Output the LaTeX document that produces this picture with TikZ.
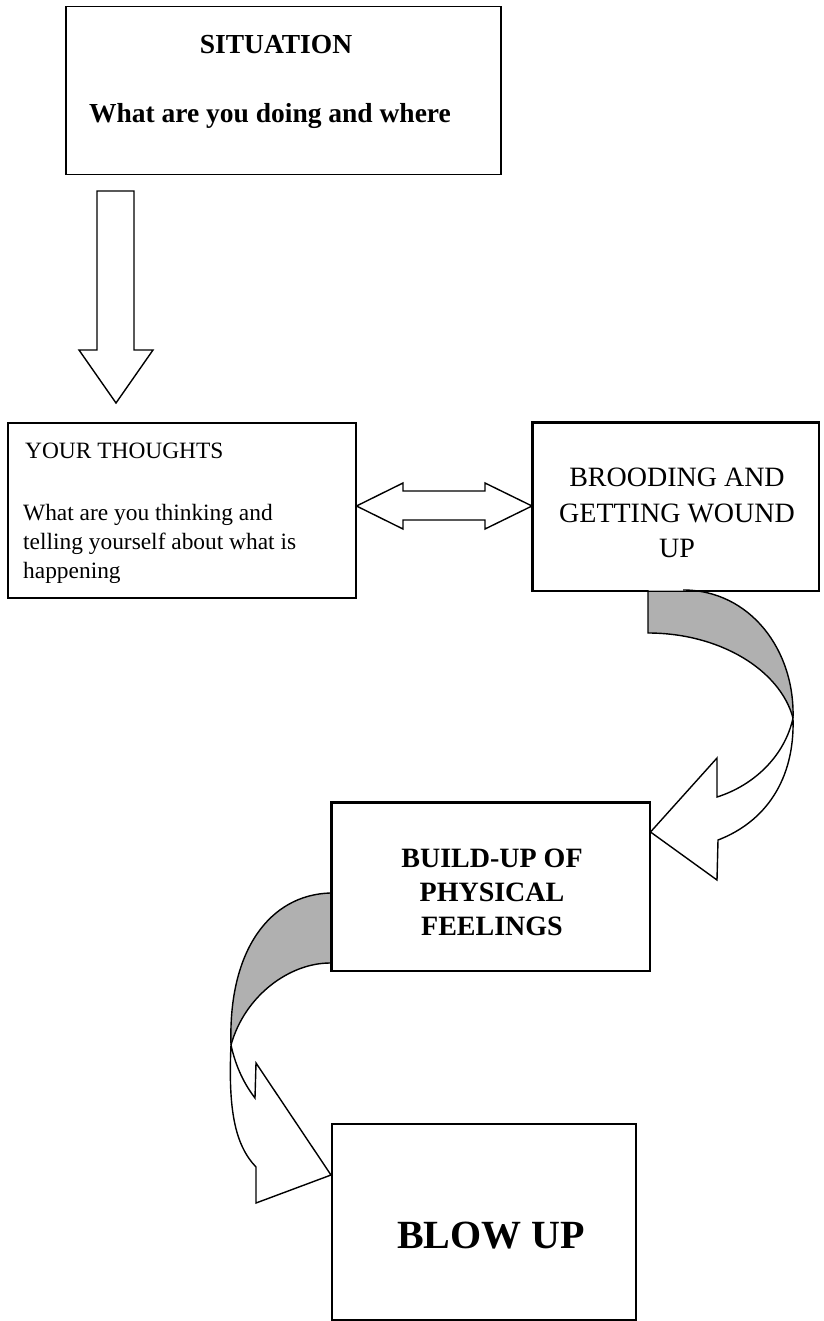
\documentclass[tikz,border=0pt]{standalone}
\usepackage{fontspec}
\setmainfont{Liberation Serif}
\usetikzlibrary{calc}
\definecolor{ribbon}{RGB}{176,176,176}
\tikzset{
  box/.style={draw=black, line width=1.5pt, rectangle, inner sep=0pt, anchor=north west},
  txt/.style={inner sep=0pt, anchor=base},
  blockarrow/.style={draw=black, line width=1.4pt, fill=white, line join=miter},
  backside/.style={fill=ribbon},
  edge/.style={draw=black, line width=1.4pt}
}
\begin{document}
\begin{tikzpicture}[x=1pt,y=-1pt]
\useasboundingbox (0,0) rectangle (823,1321);

% boxes
\node[box, minimum width=435pt, minimum height=168pt] (sit) at (65,6) {};
\node[box, minimum width=348pt, minimum height=175pt] (th) at (7,422) {};
\node[box, minimum width=286pt, minimum height=168pt] (br) at (532,422) {};
\node[box, minimum width=318pt, minimum height=168pt] (bu) at (331,802) {};
\node[box, minimum width=304pt, minimum height=196pt] (bl) at (331,1123) {};

% texts
\node[txt, font=\fontsize{27.5}{33}\selectfont\bfseries] (sitA) at (276,54) {SITUATION};
\node[txt, font=\fontsize{27.5}{33}\selectfont\bfseries] (sitB) at (270,123) {What are you doing and where};

\node[txt, anchor=base west, font=\fontsize{23.4}{29}\selectfont] (thA) at (25,458) {YOUR THOUGHTS};
\node[txt, anchor=base west, font=\fontsize{23.4}{29}\selectfont] (thB) at (23,520) {What are you thinking and};
\node[txt, anchor=base west, font=\fontsize{23.4}{29}\selectfont] (thC) at (23,549) {telling yourself about what is};
\node[txt, anchor=base west, font=\fontsize{23.4}{29}\selectfont] (thD) at (23,578) {happening};

\node[txt, font=\fontsize{28}{35}\selectfont] (brA) at (677,486) {BROODING AND};
\node[txt, font=\fontsize{28}{35}\selectfont] (brB) at (677,522) {GETTING WOUND};
\node[txt, font=\fontsize{28}{35}\selectfont] (brC) at (677,557) {UP};

\node[txt, font=\fontsize{28}{34}\selectfont\bfseries] (buA) at (492,867) {BUILD-UP OF};
\node[txt, font=\fontsize{28}{34}\selectfont\bfseries] (buB) at (492,901) {PHYSICAL};
\node[txt, font=\fontsize{28}{34}\selectfont\bfseries] (buC) at (492,935) {FEELINGS};

\node[txt, font=\fontsize{40}{48}\selectfont\bfseries] (blA) at (491,1248) {BLOW UP};

% tip coordinates on the boxes
\coordinate (dTip) at (116,403);
\coordinate (lTip) at (th.east |- 0,506);
\coordinate (rTip) at (br.west |- 0,506);
\coordinate (c1Tip) at (bu.east |- 0,832);
\coordinate (c2Tip) at (bl.west |- 0,1175);

% down block arrow: situation -> thoughts
\draw[blockarrow] (97,191) -- (134,191) -- (134,350) -- (153,350) -- (dTip)
  -- (79,350) -- (97,350) -- cycle;

% double block arrow: thoughts <-> brooding
\draw[blockarrow] (lTip) -- (403,483) -- (403,491) -- (485,491) -- (485,483)
  -- (rTip) -- (485,529) -- (485,520) -- (403,520) -- (403,529) -- cycle;

% curved arrow 1: brooding -> build-up
\fill[backside] (648,590) -- (683,590) .. controls (750,590) and (795,650) .. (793,718)
  .. controls (780,670) and (720,633) .. (648,633) -- cycle;
\draw[edge] (648,590) -- (648,633) .. controls (720,633) and (780,670) .. (793,718);
\draw[edge] (683,590) .. controls (750,590) and (795,650) .. (793,718);
\draw[blockarrow] (793,718) .. controls (785,755) and (755,785) .. (717,797)
  -- (717,758) -- (c1Tip) -- (717,880) -- (718,840)
  .. controls (765,822) and (795,780) .. (793,718);

% curved arrow 2: build-up -> blow up
\fill[backside] (330,893) .. controls (270,895) and (228,950) .. (231,1045)
  .. controls (245,995) and (290,963) .. (330,963) -- cycle;
\draw[edge] (330,893) .. controls (270,895) and (228,950) .. (231,1045);
\draw[edge] (330,963) .. controls (290,963) and (245,995) .. (231,1045);
\draw[blockarrow] (231,1045) .. controls (236,1068) and (245,1085) .. (255,1098)
  -- (256,1063) -- (c2Tip) -- (256,1203) -- (256,1167)
  .. controls (235,1145) and (228,1110) .. (231,1045);

% redraw box borders on top
\draw[line width=1.5pt] (bu.north west) rectangle (bu.south east);
\draw[line width=1.5pt] (br.north west) rectangle (br.south east);
\end{tikzpicture}
\end{document}
